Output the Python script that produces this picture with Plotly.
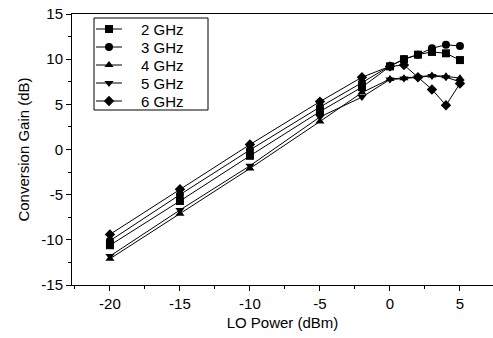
import plotly.graph_objects as go

lo_power = [-20, -15, -10, -5, -2, 0, 1, 2, 3, 4, 5]
gain_2ghz = [-10.6, -5.7, -0.7, 4.2, 6.9, 9.2, 10.0, 10.5, 10.8, 10.65, 9.9]
gain_3ghz = [-10.1, -5.0, -0.05, 4.7, 7.4, 9.25, 10.0, 10.5, 11.2, 11.6, 11.45]
gain_4ghz = [-12.1, -7.1, -2.1, 3.1, 6.3, 7.8, 7.9, 8.05, 8.2, 8.1, 7.9]
gain_5ghz = [-11.8, -6.7, -1.8, 3.6, 5.8, 7.75, 7.85, 8.0, 8.15, 8.0, 7.5]
gain_6ghz = [-9.4, -4.4, 0.55, 5.3, 8.0, 9.2, 9.35, 8.0, 6.65, 4.9, 7.3]

x_ticks = [-20, -15, -10, -5, 0, 5]
x_ticklabels = ["-20", "-15", "-10", "-5", "0", "5"]
y_ticks = [-15, -10, -5, 0, 5, 10, 15]
y_ticklabels = ["-15", "-10", "-5", "0", "5", "10", "15"]

series_names = ["2 GHz", "3 GHz", "4 GHz", "5 GHz", "6 GHz"]
series_values = [gain_2ghz, gain_3ghz, gain_4ghz, gain_5ghz, gain_6ghz]
series_symbols = ["square", "circle", "triangle-up", "triangle-down", "diamond"]

FONT = "Liberation Sans, Arial, sans-serif"

fig = go.Figure()
for name, vals, sym in zip(series_names, series_values, series_symbols):
    fig.add_trace(go.Scatter(
        x=lo_power, y=vals, name=name, mode="lines+markers",
        line=dict(color="black", width=1),
        marker=dict(symbol=sym, size=8, color="black"),
        showlegend=False,
    ))

# Custom legend drawn on an invisible overlay axis measured in page pixels
LEG_LEFT, LEG_RIGHT, LEG_TOP, LEG_BOTTOM = 94, 208, 18, 110
ROW0, ROW_STEP = 29, 18
SYM_X0, SYM_X1, TEXT_X = 96, 122, 139
for i, (name, sym) in enumerate(zip(series_names, series_symbols)):
    ry = ROW0 + i * ROW_STEP
    fig.add_trace(go.Scatter(
        x=[SYM_X0, SYM_X1], y=[ry, ry],
        mode="lines", xaxis="x2", yaxis="y2",
        line=dict(color="black", width=1),
        showlegend=False, hoverinfo="skip",
    ))
    fig.add_trace(go.Scatter(
        x=[(SYM_X0 + SYM_X1) / 2], y=[ry],
        mode="markers", xaxis="x2", yaxis="y2",
        marker=dict(symbol=sym, size=8, color="black"),
        showlegend=False, hoverinfo="skip",
    ))
    fig.add_annotation(
        x=TEXT_X, y=ry, xref="x2", yref="y2", text=name, showarrow=False,
        xanchor="left", yanchor="middle",
        font=dict(family=FONT, size=15, color="black"),
    )
fig.add_shape(type="rect", xref="x2", yref="y2",
              x0=LEG_LEFT, x1=LEG_RIGHT, y0=LEG_TOP, y1=LEG_BOTTOM,
              line=dict(color="black", width=1), fillcolor="rgba(0,0,0,0)")

fig.update_layout(
    width=493, height=338,
    margin=dict(l=72, r=0, t=14, b=53),
    paper_bgcolor="white", plot_bgcolor="white",
    font=dict(family=FONT, size=15, color="black"),
    showlegend=False,
    xaxis=dict(
        range=[-22.71, 7.36],
        tickmode="array", tickvals=x_ticks, ticktext=x_ticklabels,
        ticks="outside", ticklen=5, tickwidth=1, tickcolor="black",
        minor=dict(dtick=2.5, tick0=0, ticks="outside", ticklen=3, tickcolor="black", showgrid=False),
        showline=True, linecolor="black", linewidth=1, mirror=True,
        showgrid=False, zeroline=False,
        title=dict(text="LO Power (dBm)", font=dict(family=FONT, size=15), standoff=6),
        tickfont=dict(family=FONT, size=15),
    ),
    yaxis=dict(
        range=[-15, 15],
        tickmode="array", tickvals=y_ticks, ticktext=y_ticklabels,
        ticks="outside", ticklen=5, tickwidth=1, tickcolor="black",
        minor=dict(dtick=2.5, tick0=0, ticks="outside", ticklen=3, tickcolor="black", showgrid=False),
        showline=True, linecolor="black", linewidth=1, mirror=False,
        showgrid=False, zeroline=False,
        title=dict(text="Conversion Gain (dB)", font=dict(family=FONT, size=15), standoff=8),
        tickfont=dict(family=FONT, size=15),
    ),
    xaxis2=dict(overlaying="x", range=[72, 493], visible=False, fixedrange=True),
    yaxis2=dict(overlaying="y", range=[285, 14], visible=False, fixedrange=True),
)

fig.write_html(
    "out.html",
    config={"displayModeBar": False},
    post_script="document.body.style.margin='0';document.body.style.padding='0';",
)
